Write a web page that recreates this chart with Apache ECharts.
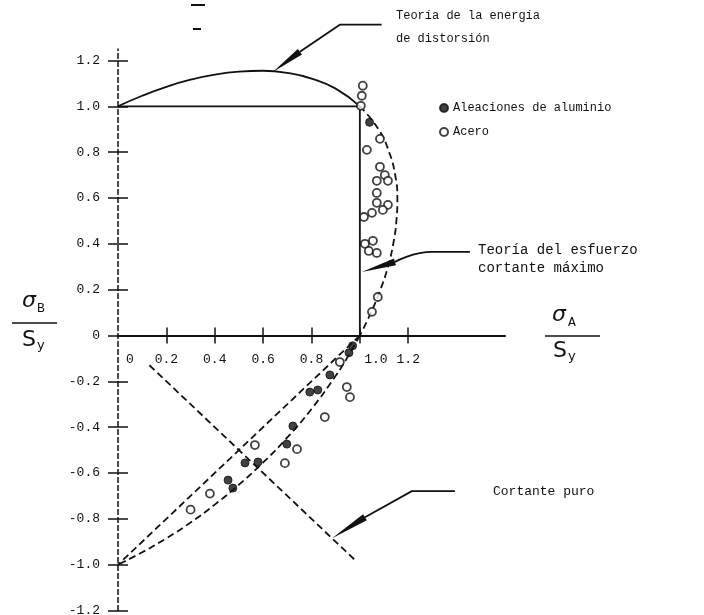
<!DOCTYPE html>
<html>
<head>
<meta charset="utf-8">
<script src="https://cdn.jsdelivr.net/npm/echarts@6/dist/echarts.min.js"></script>
<style>
  html, body { margin: 0; padding: 0; background: #fff; }
  #chart { width: 704px; height: 615px; }
</style>
</head>
<body>
<div id="chart"></div>
<script>
// Axis tick values
const xLabelValues = [0, 0.2, 0.4, 0.6, 0.8, 1.0, 1.2];
const xTickValues = [0.2, 0.4, 0.6, 0.8, 1.0, 1.2];
const yTickValues = [-1.2, -1.0, -0.8, -0.6, -0.4, -0.2, 0, 0.2, 0.4, 0.6, 0.8, 1.0, 1.2];

// Aluminium alloy tests (filled dots): sigmaA/Sy, sigmaB/Sy
const alumA = [1.04, 0.97, 0.955, 0.876, 0.793, 0.826, 0.723, 0.698, 0.525, 0.579, 0.455, 0.475];
const alumB = [0.93, -0.045, -0.075, -0.172, -0.247, -0.238, -0.395, -0.474, -0.556, -0.552, -0.631, -0.666];

// Steel tests (open circles)
const steelA = [1.012, 1.008, 1.004, 1.083, 1.029, 1.083, 1.103, 1.07, 1.116, 1.07, 1.07, 1.116, 1.05, 1.095, 1.017,
                1.021, 1.054, 1.037, 1.07, 1.074, 1.05,
                0.917, 0.946, 0.959, 0.855, 0.74, 0.566, 0.69, 0.38, 0.30];
const steelB = [1.09, 1.046, 1.002, 0.858, 0.81, 0.736, 0.70, 0.675, 0.675, 0.622, 0.579, 0.57, 0.535, 0.548, 0.517,
                0.40, 0.413, 0.369, 0.36, 0.168, 0.103,
                -0.116, -0.225, -0.269, -0.356, -0.496, -0.478, -0.557, -0.69, -0.76];

// Distortion-energy envelope
const energyTopA = [0, 0.1, 0.2, 0.3, 0.4, 0.5, 0.6, 0.7, 0.8, 0.9, 1.0];
const energyTopB = [1.0, 1.046, 1.085, 1.116, 1.138, 1.151, 1.155, 1.146, 1.121, 1.077, 1.0];
const energyRightA = [1.0, 1.077, 1.121, 1.146, 1.155, 1.151, 1.138, 1.116, 1.085, 1.046, 1.0];
const energyRightB = [1.0, 0.9, 0.8, 0.7, 0.6, 0.5, 0.4, 0.3, 0.2, 0.1, 0];
const energyLowA = [1.0, 0.946, 0.9, 0.8, 0.7, 0.6, 0.5, 0.4, 0.3, 0.2, 0.1, 0];
const energyLowB = [0, -0.1, -0.176, -0.321, -0.445, -0.554, -0.651, -0.738, -0.816, -0.885, -0.946, -1.0];

// Maximum-shear envelope
const trescaA = [0, 1.0, 1.0];
const trescaB = [1.0, 1.0, 0];
const trescaLowA = [1.0, 0];
const trescaLowB = [0, -1.0];

// Pure shear line sigmaB = -sigmaA
const shearA = [0.13, 0.98];
const shearB = [-0.13, -0.98];

// Annotation leaders (data space) and arrowheads [tipA, tipB, tailA, tailB]
const leaderEnergyA = [1.09, 0.917, 0.752];
const leaderEnergyB = [1.356, 1.356, 1.238];
const leaderTrescaA = [1.455, 1.298, 1.145];
const leaderTrescaB = [0.365, 0.365, 0.321];
const leaderShearA = [1.393, 1.215, 1.021];
const leaderShearB = [-0.679, -0.679, -0.793];
const arrowHeads = [
  [0.64, 1.15, 0.752, 1.238],
  [1.008, 0.277, 1.145, 0.321],
  [0.885, -0.885, 1.021, -0.793]
];

const zip = (a, b) => a.map((v, i) => [v, b[i]]);
const INK = '#111';
const MONO = '"Liberation Mono", "DejaVu Sans Mono", monospace';

function curve(name, a, b, dashed, smooth) {
  return {
    type: 'line', name: name, data: zip(a, b), symbol: 'none', smooth: !!smooth,
    silent: true, clip: false, z: 2,
    lineStyle: { color: INK, width: 1.8, type: dashed ? [7, 4] : 'solid' }
  };
}

const chart = echarts.init(document.getElementById('chart'), null, { renderer: 'canvas' });

const tickLabel = { color: INK, fontFamily: MONO, fontSize: 13 };
// grid geometry: y spans -1.2 .. 1.25, the horizontal axis sits at sigmaB = 0
const Y_MIN = -1.2, Y_MAX = 1.25;
const GRID_TOP = 49, GRID_H = 561.5;
const ZERO_SHIFT = -GRID_H * (0 - Y_MIN) / (Y_MAX - Y_MIN);

chart.setOption({
  animation: false,
  backgroundColor: '#fff',
  grid: { left: 118, top: GRID_TOP, width: 387, height: GRID_H, outerBoundsMode: 'none' },
  legend: {
    orient: 'vertical', left: 434, top: 97, itemGap: 12,
    itemWidth: 8, itemHeight: 8, icon: 'circle',
    data: ['Aleaciones de aluminio', 'Acero'],
    textStyle: { color: INK, fontFamily: MONO, fontSize: 12 },
    selectedMode: false
  },
  xAxis: [
    {
      type: 'value', min: 0, max: 1.6, interval: 0.2, position: 'bottom', offset: ZERO_SHIFT,
      axisLine: { show: true, onZero: false, lineStyle: { color: INK, width: 2 } },
      axisTick: { show: true, length: 8, customValues: xTickValues, lineStyle: { color: INK, width: 1.5 } },
      axisLabel: {
        show: true, margin: 18, customValues: xLabelValues, ...tickLabel,
        formatter: v => v === 0 ? '{z|0}' : (Math.abs(v - 1) < 1e-9 ? '{o|1.0}' : v.toFixed(1)),
        rich: {
          z: { ...tickLabel, padding: [0, 0, 0, 24] },
          o: { ...tickLabel, padding: [0, 0, 0, 32] }
        }
      },
      splitLine: { show: false }
    },
    {
      type: 'value', min: 0, max: 1.6, interval: 0.2, position: 'bottom', offset: ZERO_SHIFT,
      axisLine: { show: false, onZero: false },
      axisTick: { show: true, inside: true, length: 8, customValues: xTickValues, lineStyle: { color: INK, width: 1.5 } },
      axisLabel: { show: false },
      splitLine: { show: false }
    }
  ],
  yAxis: [
    {
      type: 'value', min: Y_MIN, max: Y_MAX, position: 'left',
      axisLine: { show: true, onZero: false, lineStyle: { color: INK, width: 1.5, type: [5, 3] } },
      axisTick: { show: true, length: 10, customValues: yTickValues, lineStyle: { color: INK, width: 1.5 } },
      axisLabel: {
        show: true, margin: 18, customValues: yTickValues, ...tickLabel,
        formatter: v => v === 0 ? '0' : v.toFixed(1)
      },
      splitLine: { show: false }
    },
    {
      type: 'value', min: Y_MIN, max: Y_MAX, position: 'left',
      axisLine: { show: false, onZero: false },
      axisTick: { show: true, inside: true, length: 10, customValues: yTickValues, lineStyle: { color: INK, width: 1.5 } },
      axisLabel: { show: false },
      splitLine: { show: false }
    }
  ],
  series: [
    curve('energyTop', energyTopA, energyTopB, false, true),
    curve('energyRight', energyRightA, energyRightB, true, true),
    curve('energyLow', energyLowA, energyLowB, true, true),
    curve('tresca', trescaA, trescaB, false, false),
    curve('trescaLow', trescaLowA, trescaLowB, true, false),
    curve('shear', shearA, shearB, true, false),
    curve('leaderEnergy', leaderEnergyA, leaderEnergyB, false, false),
    curve('leaderTresca', leaderTrescaA, leaderTrescaB, false, true),
    curve('leaderShear', leaderShearA, leaderShearB, false, false),
    {
      type: 'custom', name: 'arrows', silent: true, clip: false, z: 3,
      data: arrowHeads,
      renderItem: (params, api) => {
        const tip = api.coord([api.value(0), api.value(1)]);
        const tail = api.coord([api.value(2), api.value(3)]);
        const dx = tail[0] - tip[0], dy = tail[1] - tip[1];
        const len = Math.hypot(dx, dy) || 1;
        const nx = -dy / len * 3.5, ny = dx / len * 3.5;
        return {
          type: 'polygon',
          shape: { points: [tip, [tail[0] + nx, tail[1] + ny], [tail[0] - nx, tail[1] - ny]] },
          style: { fill: INK }
        };
      }
    },
    {
      type: 'scatter', name: 'Aleaciones de aluminio', data: zip(alumA, alumB),
      symbol: 'circle', symbolSize: 8, z: 5,
      itemStyle: { color: INK, borderColor: INK, borderWidth: 1 }
    },
    {
      type: 'scatter', name: 'Acero', data: zip(steelA, steelB),
      symbol: 'circle', symbolSize: 8, z: 5,
      itemStyle: { color: '#fff', borderColor: INK, borderWidth: 1.8 }
    }
  ],
  graphic: [
    // two short strokes above the plot
    { type: 'line', shape: { x1: 191, y1: 5, x2: 205, y2: 5 }, style: { stroke: INK, lineWidth: 2 } },
    { type: 'line', shape: { x1: 193, y1: 29, x2: 201, y2: 29 }, style: { stroke: INK, lineWidth: 2 } },
    // annotation texts
    { type: 'text', left: 396, top: 10, style: { text: 'Teoría de la energía', font: '12px ' + MONO, fill: INK } },
    { type: 'text', left: 396, top: 33, style: { text: 'de distorsión', font: '12px ' + MONO, fill: INK } },
    { type: 'text', left: 478, top: 243, style: { text: 'Teoría del esfuerzo', font: '14px ' + MONO, fill: INK } },
    { type: 'text', left: 478, top: 261, style: { text: 'cortante máximo', font: '14px ' + MONO, fill: INK } },
    { type: 'text', left: 493, top: 485, style: { text: 'Cortante puro', font: '13px ' + MONO, fill: INK } },
    // vertical axis name  sigmaB / Sy
    { type: 'text', left: 22, top: 290, style: { text: 'σ', font: 'italic 22px "DejaVu Sans"', fill: INK } },
    { type: 'text', left: 37, top: 302, style: { text: 'B', font: '13px ' + MONO, fill: INK } },
    { type: 'line', shape: { x1: 12, y1: 323, x2: 57, y2: 323 }, style: { stroke: INK, lineWidth: 1.6 } },
    { type: 'text', left: 22, top: 329, style: { text: 'S', font: '22px "DejaVu Sans"', fill: INK } },
    { type: 'text', left: 37, top: 339, style: { text: 'y', font: '13px "DejaVu Sans"', fill: INK } },
    // horizontal axis name  sigmaA / Sy
    { type: 'text', left: 552, top: 304, style: { text: 'σ', font: 'italic 22px "DejaVu Sans"', fill: INK } },
    { type: 'text', left: 568, top: 316, style: { text: 'A', font: '13px ' + MONO, fill: INK } },
    { type: 'line', shape: { x1: 545, y1: 336, x2: 600, y2: 336 }, style: { stroke: INK, lineWidth: 1.6 } },
    { type: 'text', left: 553, top: 340, style: { text: 'S', font: '22px "DejaVu Sans"', fill: INK } },
    { type: 'text', left: 568, top: 350, style: { text: 'y', font: '13px "DejaVu Sans"', fill: INK } }
  ]
});
</script>
</body>
</html>
